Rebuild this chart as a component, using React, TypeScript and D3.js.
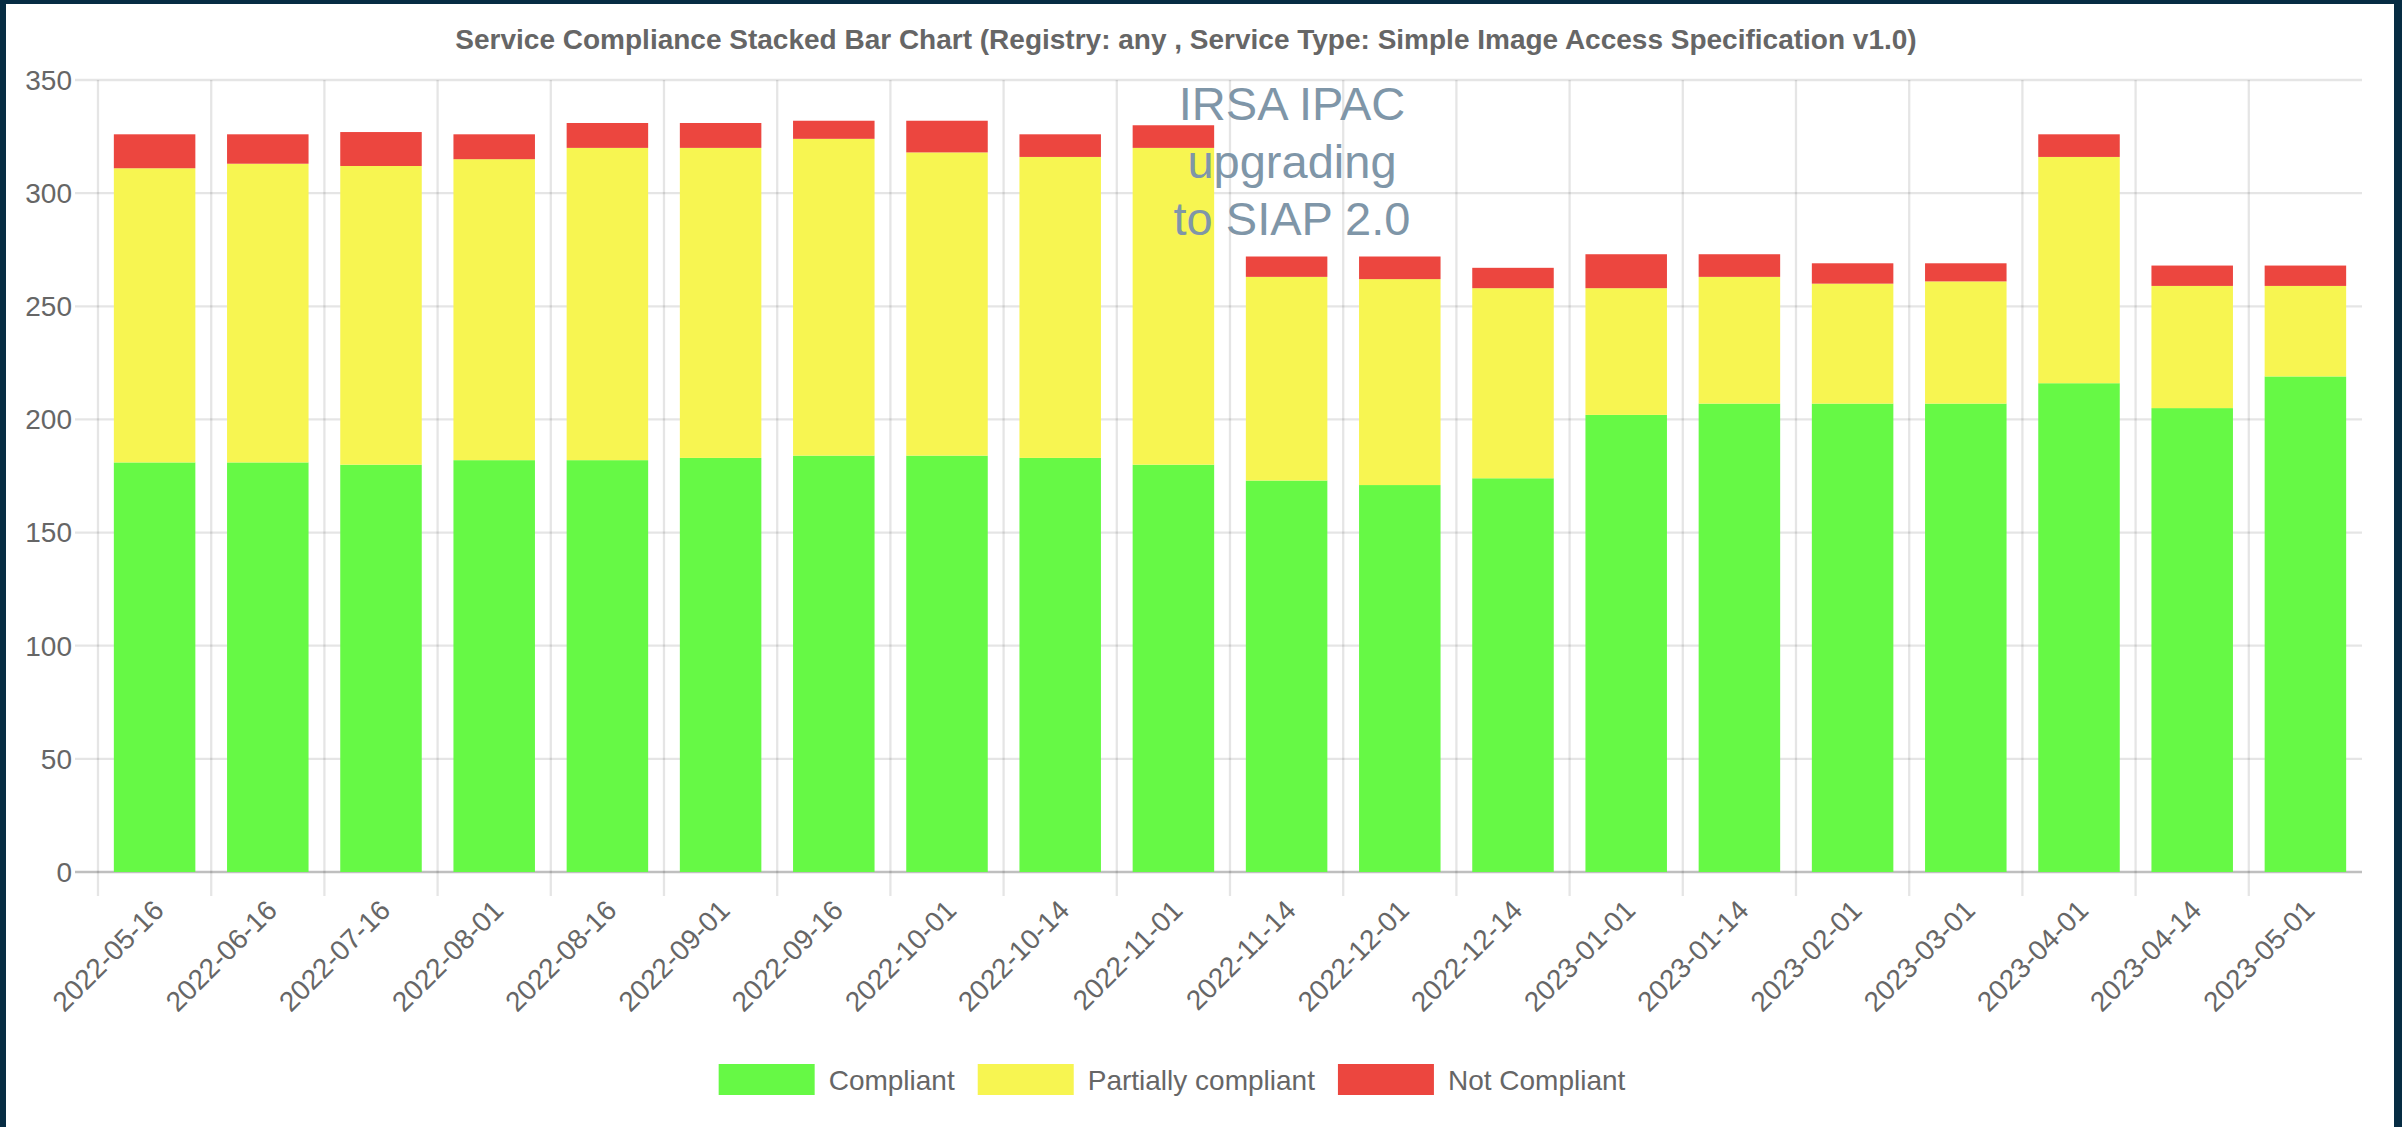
import React, { useRef, useEffect } from "react";
import * as d3 from "d3";

// dates of each compliance snapshot
const dates = [
  "2022-05-16", "2022-06-16", "2022-07-16", "2022-08-01", "2022-08-16",
  "2022-09-01", "2022-09-16", "2022-10-01", "2022-10-14", "2022-11-01",
  "2022-11-14", "2022-12-01", "2022-12-14", "2023-01-01", "2023-01-14",
  "2023-02-01", "2023-03-01", "2023-04-01", "2023-04-14", "2023-05-01",
];

const compliant = [181, 181, 180, 182, 182, 183, 184, 184, 183, 180, 173, 171, 174, 202, 207, 207, 207, 216, 205, 219];
const partiallyCompliant = [130, 132, 132, 133, 138, 137, 140, 134, 133, 140, 90, 91, 84, 56, 56, 53, 54, 100, 54, 40];
const notCompliant = [15, 13, 15, 11, 11, 11, 8, 14, 10, 10, 9, 10, 9, 15, 10, 9, 8, 10, 9, 9];

const seriesNames = ["Compliant", "Partially compliant", "Not Compliant"];
const seriesColors = ["#66f945", "#f7f551", "#ec463f"];

const annotationLines = ["IRSA IPAC", "upgrading", "to SIAP 2.0"];

const W = 2402;
const H = 1127;
const FONT = "'Liberation Sans', Arial, Helvetica, sans-serif";

export default function App() {
  const svgRef = useRef<SVGSVGElement>(null);

  useEffect(() => {
    const svg = d3.select(svgRef.current);
    svg.selectAll("*").remove();

    const left = 98, right = 2362, top = 80, bottom = 872;

    // dark page background + white card
    svg.append("rect").attr("width", W).attr("height", H).attr("fill", "#062c43");
    svg.append("rect").attr("x", 6).attr("y", 4).attr("width", 2388).attr("height", H - 4).attr("fill", "#ffffff");

    const x = d3.scaleBand().domain(dates).range([left, right]).padding(0);
    const y = d3.scaleLinear().domain([0, 350]).range([bottom, top]);
    const bw = x.bandwidth();

    const rows = dates.map((d, i) => ({
      date: d,
      c: compliant[i],
      p: partiallyCompliant[i],
      n: notCompliant[i],
    }));
    const stacked = d3.stack<any>().keys(["c", "p", "n"])(rows);

    const grid = svg.append("g");
    // horizontal grid lines (and tick marks to the left)
    grid
      .selectAll("line.h")
      .data(y.ticks(7))
      .join("line")
      .attr("x1", left - 23)
      .attr("x2", right)
      .attr("y1", (d) => y(d))
      .attr("y2", (d) => y(d))
      .attr("stroke", (d) => (d === 0 ? "rgba(0,0,0,0.25)" : "rgba(0,0,0,0.1)"))
      .attr("stroke-width", 2.3);

    // vertical grid lines between categories
    grid
      .selectAll("line.v")
      .data(dates)
      .join("line")
      .attr("x1", (d) => x(d)!)
      .attr("x2", (d) => x(d)!)
      .attr("y1", top)
      .attr("y2", bottom + 24)
      .attr("stroke", "rgba(0,0,0,0.1)")
      .attr("stroke-width", 2.3);

    // stacked bars
    svg
      .append("g")
      .selectAll("g")
      .data(stacked)
      .join("g")
      .attr("fill", (_, i) => seriesColors[i])
      .selectAll("rect")
      .data((s) => s)
      .join("rect")
      .attr("x", (d: any) => x(d.data.date)! + bw * 0.14)
      .attr("width", bw * 0.72)
      .attr("y", (d) => y(d[1]))
      .attr("height", (d) => y(d[0]) - y(d[1]));

    // y tick labels
    svg
      .append("g")
      .selectAll("text")
      .data(y.ticks(7))
      .join("text")
      .attr("x", 72)
      .attr("y", (d) => y(d))
      .attr("dy", "0.35em")
      .attr("text-anchor", "end")
      .attr("fill", "#666")
      .style("font", `28px ${FONT}`)
      .text((d) => d);

    // x tick labels, rotated
    svg
      .append("g")
      .selectAll("text")
      .data(dates)
      .join("text")
      .attr("transform", (d) => `translate(${x(d)! + bw / 2 + 4},${bottom + 33}) rotate(-45)`)
      .attr("dy", "0.35em")
      .attr("text-anchor", "end")
      .attr("fill", "#666")
      .style("font", `28px ${FONT}`)
      .text((d) => d);

    // title
    svg
      .append("text")
      .attr("x", 1186)
      .attr("y", 49)
      .attr("text-anchor", "middle")
      .attr("fill", "#666")
      .style("font", `bold 28px ${FONT}`)
      .text("Service Compliance Stacked Bar Chart (Registry: any , Service Type: Simple Image Access Specification v1.0)");

    // annotation
    svg
      .append("g")
      .selectAll("text")
      .data(annotationLines)
      .join("text")
      .attr("x", 1292)
      .attr("y", (_, i) => 120 + i * 57.5)
      .attr("text-anchor", "middle")
      .attr("fill", "#7f96a8")
      .style("font", `47px ${FONT}`)
      .text((d) => d);

    // legend
    const legend = svg.append("g");
    const items = legend
      .selectAll("g")
      .data(seriesNames)
      .join("g");
    items
      .append("rect")
      .attr("width", 96)
      .attr("height", 31)
      .attr("y", 1064)
      .attr("fill", (_, i) => seriesColors[i]);
    const labels = items
      .append("text")
      .attr("y", 1080)
      .attr("dy", "0.35em")
      .attr("fill", "#666")
      .style("font", `28px ${FONT}`)
      .text((d) => d);
    const widths = labels.nodes().map((n) => (n as SVGTextElement).getComputedTextLength());
    const total = d3.sum(widths) + seriesNames.length * (96 + 14) + (seriesNames.length - 1) * 23;
    let cx = 1172 - total / 2;
    items.each(function (_, i) {
      d3.select(this).attr("transform", `translate(${cx},0)`);
      d3.select(this).select("text").attr("x", 96 + 14);
      cx += 96 + 14 + widths[i] + 23;
    });
  }, []);

  return (
    <svg
      ref={svgRef}
      width={W}
      height={H}
      style={{ position: "absolute", left: 0, top: 0, display: "block" }}
    ></svg>
  );
}
